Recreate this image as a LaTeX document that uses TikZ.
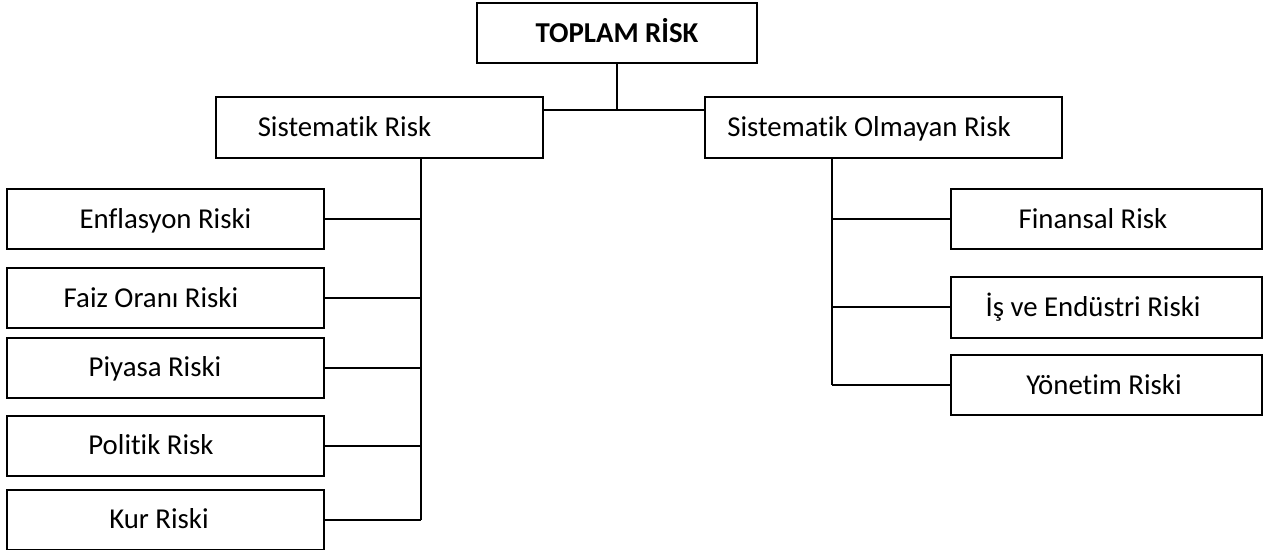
\documentclass[tikz,border=0pt]{standalone}
\usepackage{fontspec}
\setmainfont{Carlito}[Ligatures=NoCommon]
\usetikzlibrary{calc}

\begin{document}
\begin{tikzpicture}[x=0.5pt, y=-0.5pt, line width=1pt,
  box/.style={draw, fill=white, font=\fontsize{14.4}{17}\selectfont, minimum height=30pt, inner sep=2pt,
    text height=9.2pt, text depth=0pt},
  leftbox/.style={box, minimum width=158.5pt},
  rightbox/.style={box, minimum width=155.5pt},
  headbox/.style={box, minimum height=30.5pt},
  pad/.style={execute at end node=\hspace*{#1}}]
  \useasboundingbox (0,0) rectangle (1272,550);

  \node[box, minimum width=140pt, font=\fontsize{14.4}{17}\selectfont\bfseries] (total) at (617,33) {TOPLAM RİSK};
  \node[headbox, minimum width=163.5pt, pad=35pt] (sys) at (379.5,127.5) {Sistematik Risk};
  \node[headbox, minimum width=178.5pt, pad=14.5pt] (uns) at (883.5,127.5) {Sistematik Olmayan Risk};

  \node[leftbox]              (enf)  at (165.5,219)   {Enflasyon Riski};
  \node[leftbox, pad=14.5pt]  (faiz) at (165.5,298)   {Faiz Oranı Riski};
  \node[leftbox, pad=10.5pt]  (piy)  at (165.5,367.5) {Piyasa Riski};
  \node[leftbox, pad=14.5pt]  (pol)  at (165.5,445.5) {Politik Risk};
  \node[leftbox, pad=6.5pt]   (kur)  at (165.5,519.5) {Kur Riski};

  \node[rightbox, pad=13.5pt] (fin) at (1106.5,219)   {Finansal Risk};
  \node[rightbox, pad=13.5pt] (ind) at (1106.5,307.5) {İş ve Endüstri Riski};
  \node[rightbox, pad=2.5pt]  (yon) at (1106.5,385)   {Yönetim Riski};

  % Bağlantı çizgileri
  \draw (total.south) -- ++(0,46) coordinate (hub);
  \draw (sys.east |- hub) -- (uns.west |- hub);
  \draw ($(sys.south)+(41.5,0)$) coordinate (lspine) -- (lspine |- kur.east);
  \foreach \n in {enf,faiz,piy,pol,kur} \draw (\n.east) -- (lspine |- \n.east);
  \draw ($(uns.south)+(-51.5,0)$) coordinate (rspine) -- (rspine |- yon.west);
  \foreach \n in {fin,ind,yon} \draw (\n.west) -- (rspine |- \n.west);

\end{tikzpicture}
\end{document}
